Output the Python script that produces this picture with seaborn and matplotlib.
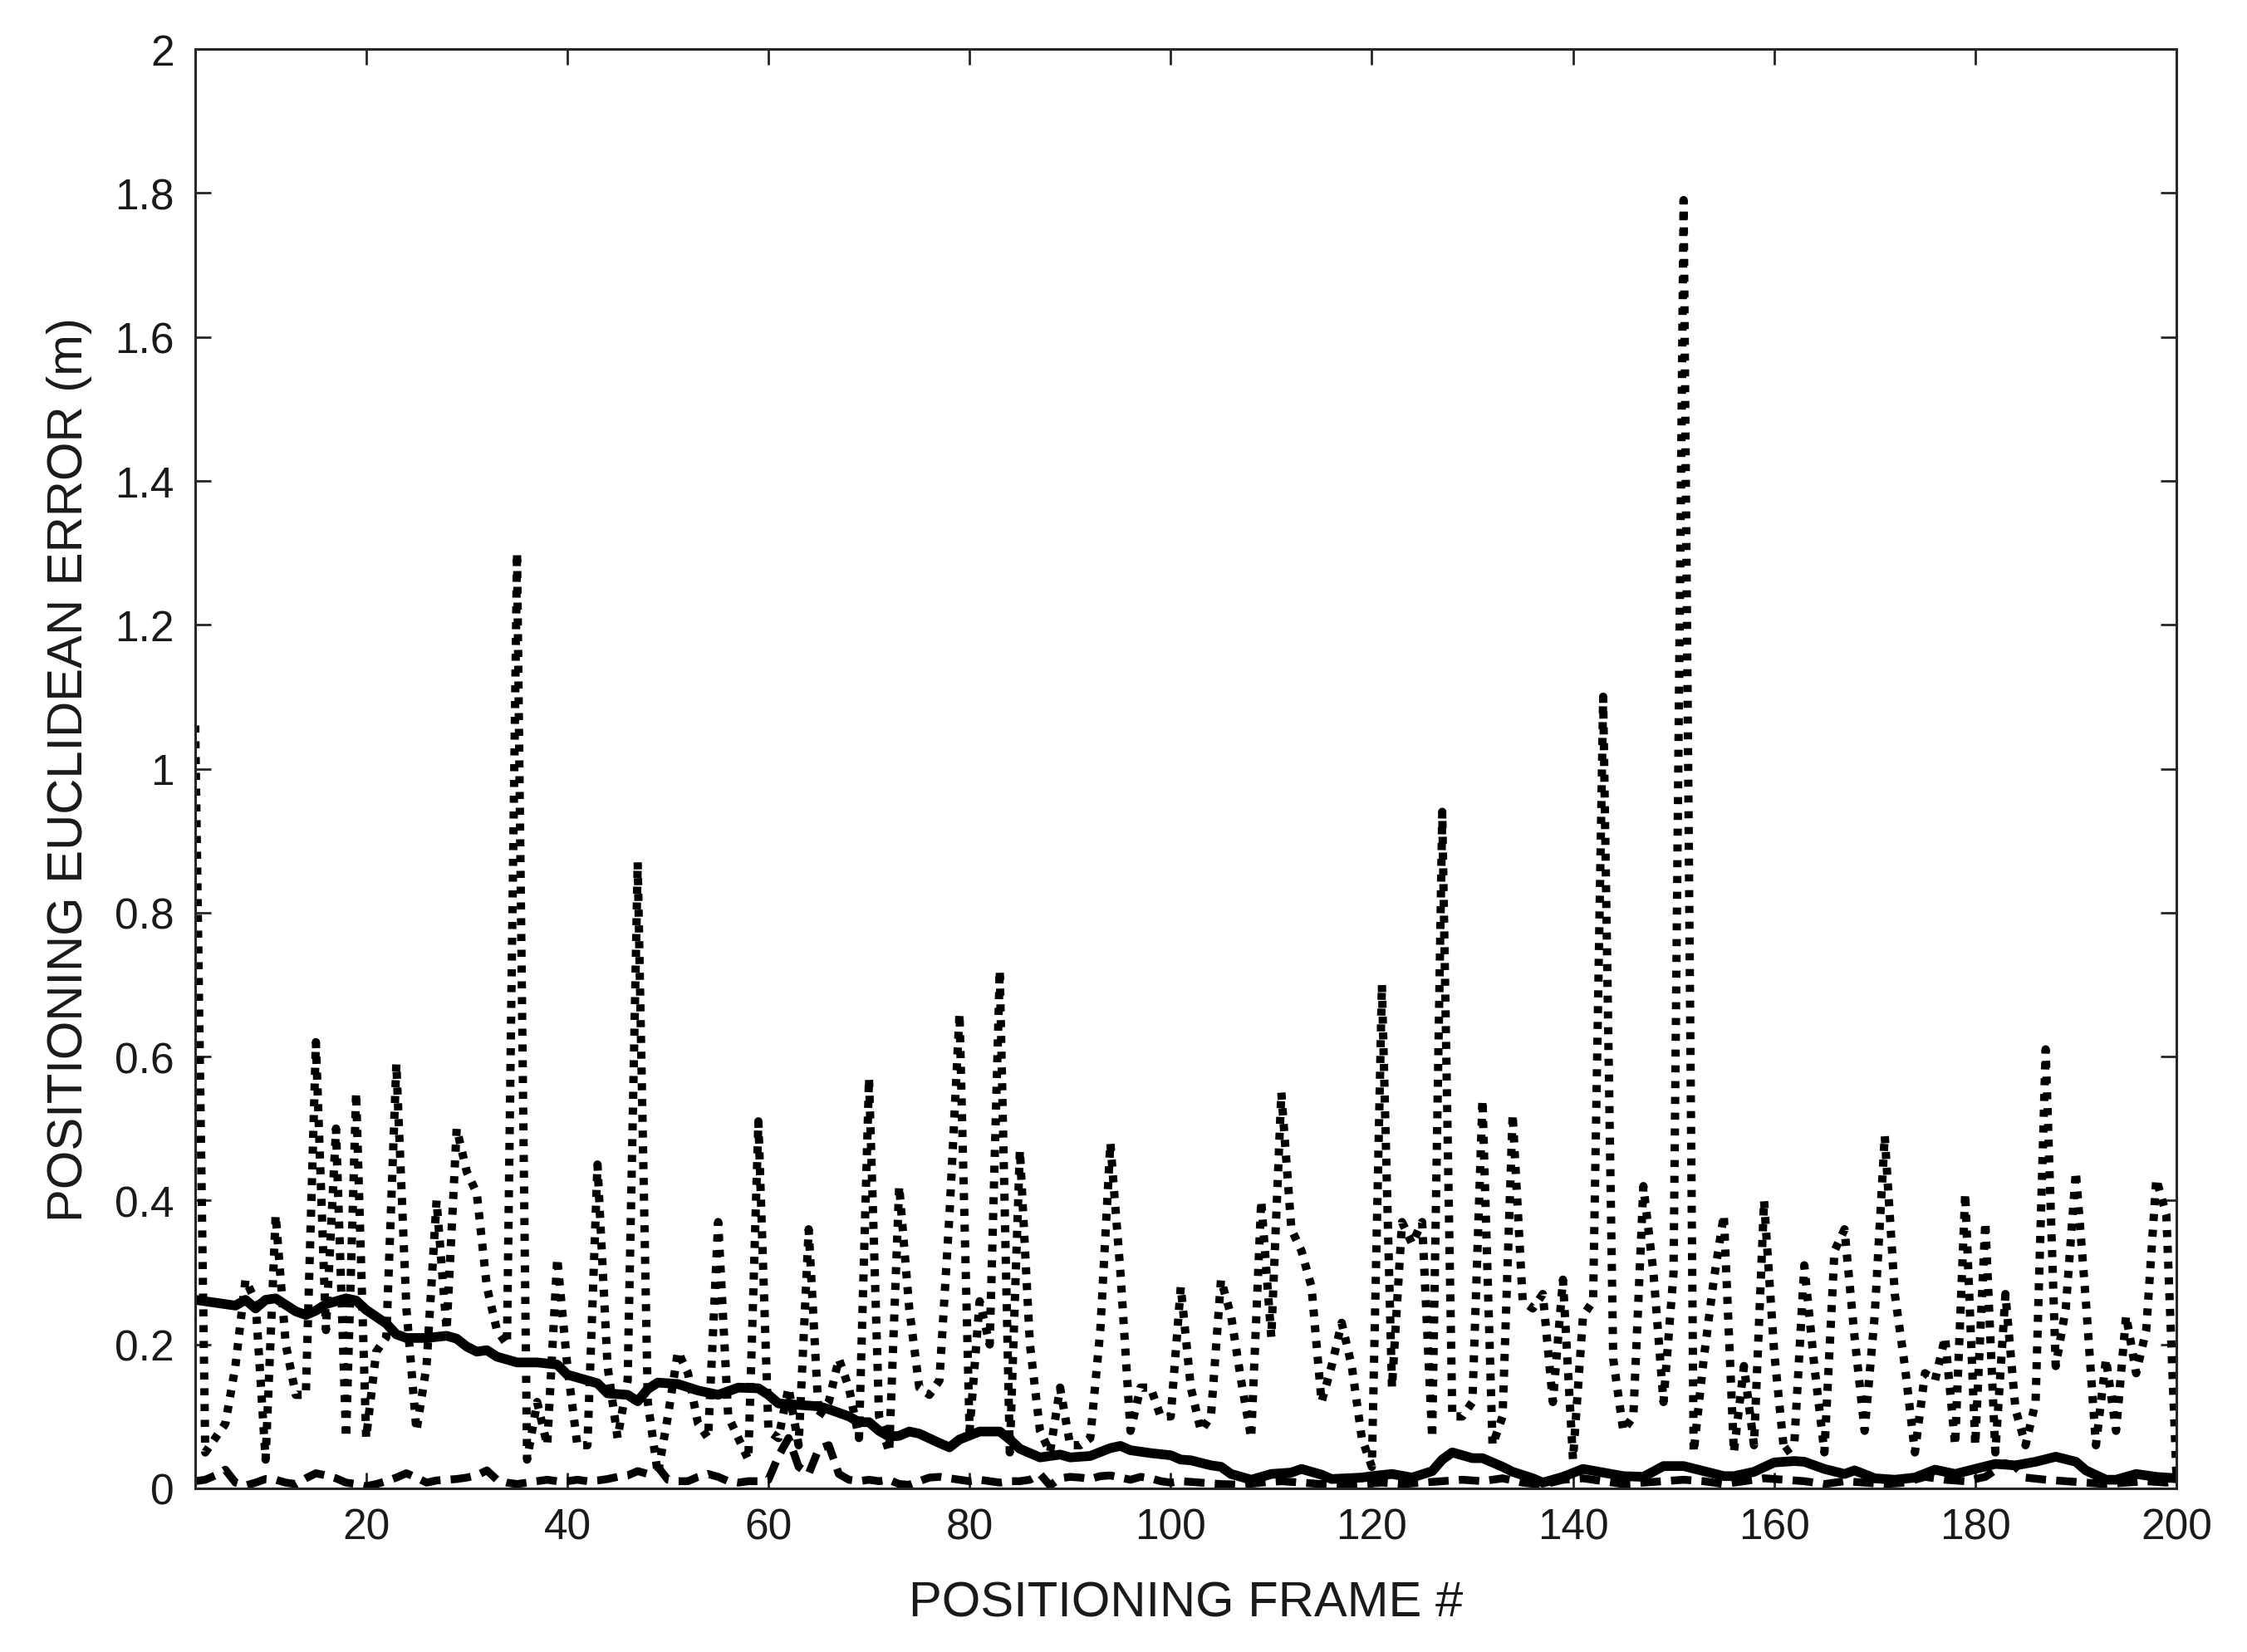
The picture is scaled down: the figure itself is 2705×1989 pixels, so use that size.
import matplotlib
matplotlib.use("Agg")
import matplotlib.pyplot as plt
import numpy as np
import pandas as pd
import seaborn as sns
from matplotlib.ticker import FuncFormatter

# ---------------- data ----------------
frames = list(range(3, 201))
dotted_err = [
    1.06, 0.05, 0.07, 0.09, 0.17, 0.29, 0.26, 0.04, 0.38, 0.20,   # 3-12
    0.13, 0.13, 0.62, 0.22, 0.50, 0.07, 0.55, 0.07, 0.19, 0.21,   # 13-22
    0.59, 0.25, 0.08, 0.17, 0.40, 0.22, 0.50, 0.44, 0.41, 0.28,   # 23-32
    0.22, 0.20, 1.30, 0.04, 0.12, 0.06, 0.32, 0.17, 0.06, 0.06,   # 33-42
    0.45, 0.17, 0.07, 0.15, 0.87, 0.12, 0.02, 0.10, 0.19, 0.16,   # 43-52
    0.09, 0.07, 0.37, 0.10, 0.07, 0.04, 0.51, 0.08, 0.07, 0.14,   # 53-62
    0.06, 0.36, 0.10, 0.12, 0.18, 0.14, 0.07, 0.57, 0.10, 0.05,   # 63-72
    0.42, 0.25, 0.14, 0.13, 0.15, 0.38, 0.66, 0.08, 0.26, 0.20,   # 73-82
    0.72, 0.05, 0.47, 0.20, 0.08, 0.05, 0.14, 0.06, 0.06, 0.07,   # 83-92
    0.22, 0.48, 0.30, 0.08, 0.14, 0.14, 0.10, 0.10, 0.28, 0.14,   # 93-102
    0.08, 0.10, 0.29, 0.24, 0.15, 0.07, 0.40, 0.21, 0.55, 0.36,   # 103-112
    0.33, 0.28, 0.12, 0.17, 0.23, 0.17, 0.07, 0.03, 0.70, 0.14,   # 113-122
    0.37, 0.34, 0.37, 0.07, 0.94, 0.10, 0.10, 0.12, 0.54, 0.06,   # 123-132
    0.10, 0.52, 0.26, 0.25, 0.27, 0.12, 0.29, 0.04, 0.24, 0.26,   # 133-142
    1.10, 0.18, 0.08, 0.10, 0.42, 0.30, 0.12, 0.30, 1.79, 0.05,   # 143-152
    0.18, 0.29, 0.38, 0.05, 0.17, 0.06, 0.40, 0.19, 0.05, 0.06,   # 153-162
    0.31, 0.17, 0.05, 0.33, 0.36, 0.21, 0.08, 0.24, 0.49, 0.27,   # 163-172
    0.17, 0.05, 0.16, 0.15, 0.21, 0.06, 0.41, 0.06, 0.37, 0.05,   # 173-182
    0.27, 0.11, 0.06, 0.12, 0.61, 0.17, 0.25, 0.44, 0.26, 0.06,   # 183-192
    0.18, 0.08, 0.24, 0.16, 0.22, 0.43, 0.38, 0.02,               # 193-200
]

solid_frames = [
    3, 5, 7, 8, 9, 10, 11, 12, 13, 14, 15, 16, 18, 19, 20, 22, 23, 24, 26, 28,
    29, 30, 31, 32, 33, 35, 37, 39, 40, 42, 43, 44, 46, 47, 48, 49, 51, 53, 55, 57,
    59, 60, 61, 63, 65, 66, 68, 69, 70, 71, 72, 73, 74, 75, 77, 78, 79, 81, 83, 84,
    85, 87, 89, 90, 92, 94, 95, 96, 98, 100, 101, 102, 104, 105, 106, 108, 110, 112, 113, 115,
    116, 119, 120, 122, 124, 126, 127, 128, 130, 131, 133, 134, 136, 137, 139, 141, 143, 145, 147, 149,
    151, 153, 155, 156, 158, 160, 162, 163, 165, 167, 168, 170, 172, 174, 176, 178, 180, 182, 184, 186,
    188, 190, 191, 193, 194, 196, 198, 200,
]
solid_err = [
    0.262, 0.258, 0.254, 0.262, 0.250, 0.262, 0.264, 0.255, 0.246, 0.241, 0.247, 0.256, 0.264, 0.261, 0.248, 0.229, 0.214, 0.209, 0.209, 0.212,
    0.208, 0.197, 0.190, 0.192, 0.183, 0.175, 0.175, 0.172, 0.158, 0.150, 0.146, 0.132, 0.130, 0.121, 0.138, 0.147, 0.145, 0.136, 0.130, 0.140,
    0.139, 0.130, 0.118, 0.116, 0.114, 0.110, 0.100, 0.092, 0.092, 0.080, 0.072, 0.073, 0.079, 0.076, 0.063, 0.057, 0.068, 0.079, 0.079, 0.068,
    0.055, 0.043, 0.047, 0.043, 0.045, 0.056, 0.059, 0.053, 0.049, 0.046, 0.040, 0.039, 0.032, 0.030, 0.020, 0.012, 0.020, 0.022, 0.027, 0.019,
    0.013, 0.015, 0.017, 0.020, 0.015, 0.024, 0.040, 0.050, 0.042, 0.042, 0.030, 0.023, 0.014, 0.008, 0.016, 0.027, 0.022, 0.017, 0.016, 0.031,
    0.031, 0.024, 0.017, 0.017, 0.023, 0.036, 0.038, 0.037, 0.027, 0.020, 0.025, 0.014, 0.012, 0.015, 0.026, 0.020, 0.027, 0.034, 0.032, 0.037,
    0.044, 0.037, 0.025, 0.012, 0.012, 0.020, 0.016, 0.014,
]

dashed_frames = list(range(3, 102)) + [
    103, 105, 107, 109, 111, 113, 115, 117, 119, 121, 123, 125, 127, 129, 131, 133, 135, 137, 139, 141,
    143, 145, 147, 149, 151, 153, 155, 157, 159, 161, 163, 165, 167, 169, 171, 173, 175, 177, 179, 181,
    183, 184, 185, 187, 189, 191, 193, 195, 197, 199, 200,
]
dashed_err = [
    0.010, 0.012, 0.018, 0.026, 0.008, 0.004, 0.008, 0.013, 0.012, 0.008,   # 3-12
    0.006, 0.014, 0.021, 0.018, 0.014, 0.008, 0.006, 0.003, 0.006, 0.010,   # 13-22
    0.015, 0.021, 0.015, 0.008, 0.011, 0.012, 0.013, 0.015, 0.018, 0.025,   # 23-32
    0.012, 0.008, 0.006, 0.008, 0.010, 0.012, 0.010, 0.010, 0.012, 0.010,   # 33-42
    0.011, 0.013, 0.016, 0.018, 0.024, 0.020, 0.030, 0.012, 0.010, 0.010,   # 43-52
    0.016, 0.020, 0.016, 0.010, 0.008, 0.010, 0.010, 0.012, 0.045, 0.070,   # 53-62
    0.030, 0.020, 0.055, 0.060, 0.020, 0.012, 0.010, 0.012, 0.010, 0.012,   # 63-72
    0.006, 0.005, 0.010, 0.015, 0.016, 0.014, 0.012, 0.010, 0.012, 0.010,   # 73-82
    0.008, 0.010, 0.010, 0.012, 0.020, 0.004, 0.014, 0.016, 0.015, 0.013,   # 83-92
    0.017, 0.018, 0.015, 0.012, 0.016, 0.014, 0.010, 0.008, 0.010,          # 93-101
    0.008, 0.006, 0.005, 0.008, 0.010, 0.008, 0.006, 0.004, 0.006, 0.008,
    0.006, 0.008, 0.010, 0.012, 0.010, 0.014, 0.008, 0.005, 0.012, 0.014,
    0.010, 0.006, 0.008, 0.010, 0.012, 0.010, 0.006, 0.010, 0.014, 0.012,
    0.010, 0.006, 0.010, 0.008, 0.006, 0.008, 0.016, 0.012, 0.010, 0.016,
    0.035, 0.030, 0.015, 0.012, 0.010, 0.008, 0.006, 0.008, 0.010, 0.008,
    0.010,
]

x_ticks = [20, 40, 60, 80, 100, 120, 140, 160, 180, 200]
y_ticks = [0, 0.2, 0.4, 0.6, 0.8, 1.0, 1.2, 1.4, 1.6, 1.8, 2.0]
x_label = "POSITIONING FRAME #"
y_label = "POSITIONING EUCLIDEAN ERROR (m)"

# ---------------- drawing ----------------
sns.set_theme(style="white")
plt.rcParams["font.family"] = ["Liberation Sans", "DejaVu Sans"]

W, H, DPI = 2705, 1990, 200
fig = plt.figure(figsize=(W / DPI, H / DPI), dpi=DPI)
fig.patch.set_facecolor("white")
ax = fig.add_axes([235 / W, 1 - 1793 / H, (2620 - 235) / W, (1793 - 60) / H])
ax.set_facecolor("white")

df_dot = pd.DataFrame({"frame": frames, "err": dotted_err})
df_sol = pd.DataFrame({"frame": solid_frames, "err": solid_err})
df_das = pd.DataFrame({"frame": dashed_frames, "err": dashed_err})

sns.lineplot(data=df_dot, x="frame", y="err", ax=ax, color="black",
             linewidth=3.6, linestyle=(0, (0.85, 1.05)), dash_capstyle="butt",
             estimator=None, sort=False)
sns.lineplot(data=df_sol, x="frame", y="err", ax=ax, color="black",
             linewidth=4.2, linestyle="-", solid_joinstyle="round",
             estimator=None, sort=False)
sns.lineplot(data=df_das, x="frame", y="err", ax=ax, color="black",
             linewidth=3.4, linestyle=(0, (2.6, 1.3)), dash_capstyle="butt",
             estimator=None, sort=False)

ax.set_xlim(3, 200)
ax.set_ylim(0, 2)
ax.set_xticks(x_ticks)
ax.set_yticks(y_ticks)
ax.yaxis.set_major_formatter(FuncFormatter(lambda v, p: f"{v:g}"))

text_col = "#1a1a1a"
for s in ax.spines.values():
    s.set_visible(True)
    s.set_color("#262626")
    s.set_linewidth(1.1)
ax.tick_params(axis="both", which="major", direction="in", length=7, width=1.0,
               colors="#262626", labelcolor=text_col, labelsize=18.5,
               top=True, right=True, bottom=True, left=True)
ax.tick_params(axis="x", pad=8)
ax.tick_params(axis="y", pad=9)

ax.set_xlabel(x_label, fontsize=21.5, color=text_col, labelpad=14)
ax.set_ylabel(y_label, fontsize=21.5, color=text_col, labelpad=10)
ax.grid(False)

fig.savefig("out.png", dpi=DPI, facecolor="white")
